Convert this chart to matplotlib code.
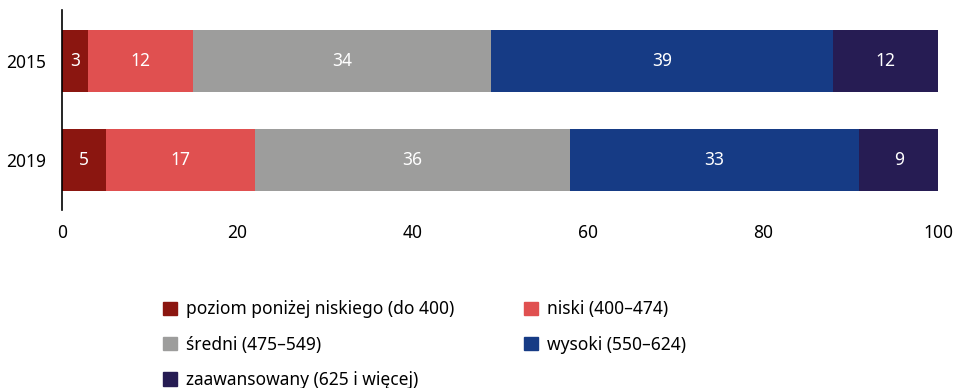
import numpy as np
import matplotlib.pyplot as plt
from matplotlib.patches import Patch

plt.rcParams['font.family'] = ['Noto Sans', 'DejaVu Sans']

lata = ["2015", "2019"]
kategorie = ["poziom poniżej niskiego (do 400)", "niski (400–474)", "średni (475–549)",
             "wysoki (550–624)", "zaawansowany (625 i więcej)"]
wartosci = {
    "poziom poniżej niskiego (do 400)": [3, 5],
    "niski (400–474)": [12, 17],
    "średni (475–549)": [34, 36],
    "wysoki (550–624)": [39, 33],
    "zaawansowany (625 i więcej)": [12, 9],
}
kolory = ["#8b1610", "#e05050", "#9d9d9c", "#163b85", "#261c53"]

fig = plt.figure(figsize=(9.57, 3.88), dpi=100)
ax = fig.add_axes([0.0648, 0.459, 0.9154, 0.515])

y = np.arange(len(lata))
lewo = np.zeros(len(lata))
for kat, kol in zip(kategorie, kolory):
    v = np.array(wartosci[kat], dtype=float)
    ax.barh(y, v, left=lewo, height=0.62, color=kol)
    for yi, (l, w) in enumerate(zip(lewo, v)):
        ax.text(l + w / 2, yi, f"{int(w)}", ha='center', va='center', color='white', fontsize=12.5)
    lewo += v

ax.set_xlim(0, 100)
ax.set_ylim(1.505, -0.515)
ax.set_yticks(y)
ax.set_yticklabels(lata)
ax.set_xticks([0, 20, 40, 60, 80, 100])
ax.tick_params(axis='both', length=0, labelsize=12.5)
ax.tick_params(axis='x', pad=10)
ax.tick_params(axis='y', pad=11.5)
for s in ['top', 'right', 'bottom']:
    ax.spines[s].set_visible(False)
ax.spines['left'].set_linewidth(1.2)

# kolejnosc w legendzie: wierszami, 2 kolumny
uchwyty = [Patch(color=k, label=n) for n, k in zip(kategorie, kolory)]
kol_order = [0, 2, 4, 1, 3]
fig.legend([uchwyty[i] for i in kol_order], [kategorie[i] for i in kol_order],
           ncol=2, loc='upper left', bbox_to_anchor=(0.170, 0.226), frameon=False,
           fontsize=12.5, handlelength=0.8, handleheight=0.8, handletextpad=0.55,
           labelspacing=1.0, columnspacing=4.0, borderaxespad=0, borderpad=0)

fig.savefig("out.png", dpi=100)
